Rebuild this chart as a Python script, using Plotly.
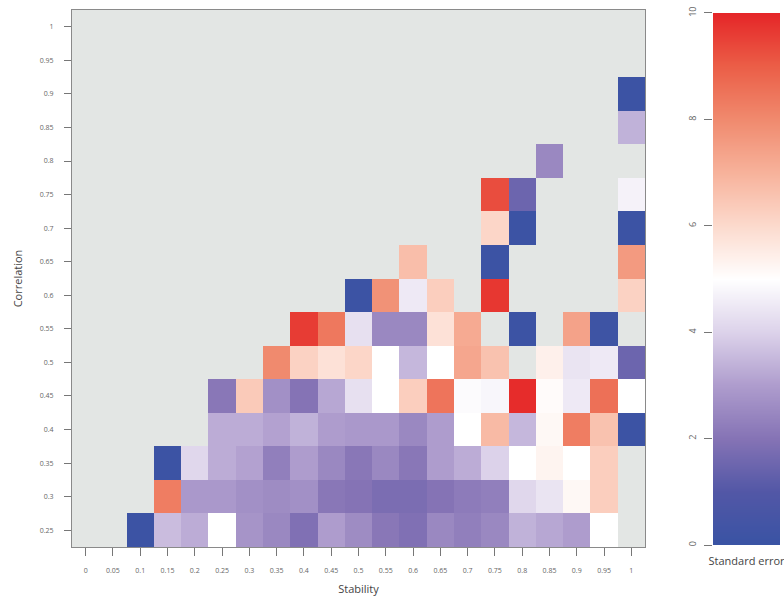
import plotly.graph_objects as go

N = None
stability = [0, 0.05, 0.1, 0.15, 0.2, 0.25, 0.3, 0.35, 0.4, 0.45, 0.5,
             0.55, 0.6, 0.65, 0.7, 0.75, 0.8, 0.85, 0.9, 0.95, 1]
stability_labels = ["0", "0.05", "0.1", "0.15", "0.2", "0.25", "0.3", "0.35", "0.4", "0.45", "0.5",
                    "0.55", "0.6", "0.65", "0.7", "0.75", "0.8", "0.85", "0.9", "0.95", "1"]
correlation = [0.25, 0.3, 0.35, 0.4, 0.45, 0.5, 0.55, 0.6, 0.65, 0.7, 0.75,
               0.8, 0.85, 0.9, 0.95, 1]
correlation_labels = ["0.25", "0.3", "0.35", "0.4", "0.45", "0.5", "0.55", "0.6", "0.65", "0.7",
                      "0.75", "0.8", "0.85", "0.9", "0.95", "1"]

# standard error, rows = correlation (0.25 .. 1), cols = stability (0 .. 1)
se_025 = [N, N, 0.1, 3.6, 3.3, 5.0, 2.8, 2.5, 1.9, 3.0, 2.6, 2.1, 1.9, 2.5, 2.3, 2.5, 3.4, 3.2, 3.0, 5.0, N]
se_030 = [N, N, N, 8.3, 2.9, 2.9, 2.7, 2.6, 2.7, 2.1, 2.0, 1.8, 1.8, 2.0, 2.2, 2.3, 4.1, 4.4, 5.2, 6.3, N]
se_035 = [N, N, N, 0.1, 4.1, 3.3, 3.1, 2.3, 3.0, 2.5, 2.1, 2.5, 2.1, 3.0, 3.3, 4.0, 5.0, 5.3, 5.0, 6.3, N]
se_040 = [N, N, N, N, N, 3.3, 3.3, 3.1, 3.4, 3.0, 2.9, 2.9, 2.5, 3.0, 5.0, 6.8, 3.5, 5.2, 8.3, 6.6, 0.1]
se_045 = [N, N, N, N, N, 2.1, 6.4, 2.7, 2.0, 3.2, 4.3, 5.0, 6.3, 8.5, 4.9, 4.8, 9.9, 5.1, 4.5, 8.6, 5.0]
se_050 = [N, N, N, N, N, N, N, 8.0, 6.2, 5.8, 6.1, 5.0, 3.5, 5.0, 7.3, 6.6, N, 5.4, 4.4, 4.5, 1.5]
se_055 = [N, N, N, N, N, N, N, N, 9.6, 8.4, 4.3, 2.5, 2.5, 5.8, 7.2, N, 0.1, N, 7.4, 0.2, N]
se_060 = [N, N, N, N, N, N, N, N, N, N, 0.1, 7.8, 4.5, 6.3, N, 9.7, N, N, N, N, 6.2]
se_065 = [N, N, N, N, N, N, N, N, N, N, N, N, 6.7, N, N, 0.1, N, N, N, N, 7.6]
se_070 = [N, N, N, N, N, N, N, N, N, N, N, N, N, N, N, 6.1, 0.1, N, N, N, 0.1]
se_075 = [N, N, N, N, N, N, N, N, N, N, N, N, N, N, N, 9.3, 1.5, N, N, N, 4.7]
se_080 = [N, N, N, N, N, N, N, N, N, N, N, N, N, N, N, N, N, 2.5, N, N, N]
se_085 = [N, N, N, N, N, N, N, N, N, N, N, N, N, N, N, N, N, N, N, N, 3.4]
se_090 = [N, N, N, N, N, N, N, N, N, N, N, N, N, N, N, N, N, N, N, N, 0.1]
se_095 = [N] * 21
se_100 = [N] * 21
z = [se_025, se_030, se_035, se_040, se_045, se_050, se_055, se_060,
     se_065, se_070, se_075, se_080, se_085, se_090, se_095, se_100]

legend_ticks = [0, 2, 4, 6, 8, 10]
legend_levels = [0, 10]

colorscale = [
    [0.0, "#3953a4"], [0.1, "#5257a6"], [0.2, "#8573b5"], [0.3, "#ae9ccd"],
    [0.4, "#dcd2ea"], [0.5, "#ffffff"], [0.6, "#fcdacd"], [0.7, "#f7b29b"],
    [0.8, "#f08a6e"], [0.9, "#eb5e47"], [1.0, "#e52628"],
]

FONT = "Open Sans, Liberation Sans, sans-serif"

fig = go.Figure()
fig.add_trace(go.Heatmap(
    x=stability, y=correlation, z=z, zmin=0, zmax=10,
    colorscale=colorscale, showscale=False, hoverongaps=False,
    xaxis="x", yaxis="y",
))
# colour legend drawn as a smooth gradient heatmap
fig.add_trace(go.Heatmap(
    x=[0, 1], y=legend_levels, z=[[legend_levels[0]] * 2, [legend_levels[1]] * 2],
    zmin=0, zmax=10, colorscale=colorscale, showscale=False, zsmooth="best",
    xaxis="x2", yaxis="y2", hoverinfo="skip",
))

W, H = 784, 603
ml, mr, mt, mb = 72, 4, 7, 56
pw = W - ml - mr
ph = H - mt - mb

fig.update_layout(
    width=W, height=H,
    margin=dict(l=ml, r=mr, t=mt, b=mb),
    paper_bgcolor="white",
    plot_bgcolor="#e3e6e4",
    font=dict(family=FONT, color="#555"),
    xaxis=dict(
        domain=[0, (645 - ml) / pw], range=[-0.025, 1.025],
        tickvals=stability, ticktext=stability_labels,
        ticks="outside", ticklen=8, tickcolor="#777", tickwidth=1,
        tickfont=dict(size=7, color="#666"), ticklabelstandoff=9,
        showline=True, linecolor="#8a8a8a", linewidth=1, mirror=True,
        showgrid=False, zeroline=False, anchor="y",
        title=dict(text="Stability", font=dict(size=11, color="#444"), standoff=10),
    ),
    yaxis=dict(
        domain=[0, 1], range=[0.225, 1.025],
        tickvals=correlation, ticktext=correlation_labels,
        ticks="outside", ticklen=7, tickcolor="#777", tickwidth=1,
        tickfont=dict(size=7, color="#666"), ticklabelstandoff=9,
        showline=True, linecolor="#8a8a8a", linewidth=1, mirror=True,
        showgrid=False, zeroline=False, anchor="x",
        title=dict(text="Correlation", font=dict(size=11, color="#444"), standoff=14),
    ),
    xaxis2=dict(
        domain=[(713 - ml) / pw, (780 - ml) / pw], range=[-0.5, 1.5],
        showticklabels=False, ticks="", showgrid=False, zeroline=False, showline=False,
        anchor="y2",
        title=dict(text="Standard error", font=dict(size=11, color="#444"), standoff=12),
    ),
    yaxis2=dict(
        domain=[(H - mb - 545) / ph, (H - mb - 10) / ph], range=[0, 10],
        tickvals=legend_ticks, ticktext=[str(t) for t in legend_ticks],
        ticks="outside", ticklen=8, tickcolor="#777", tickangle=-90,
        tickfont=dict(size=9, color="#666"), ticklabelstandoff=4,
        showgrid=False, zeroline=False, showline=False, side="left",
        anchor="x2",
    ),
)

fig.write_html("out.html")
